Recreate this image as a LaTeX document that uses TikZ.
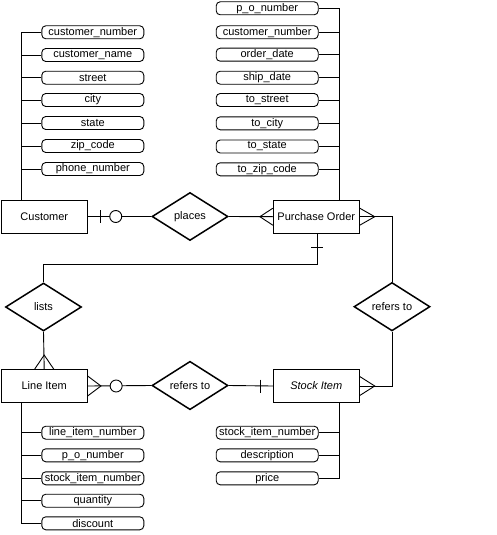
\documentclass[tikz,border=0pt]{standalone}
\usepackage{fontspec}
\setmainfont{Liberation Sans}
\usetikzlibrary{shapes.geometric,calc}
\begin{document}
\begin{tikzpicture}[x=1pt,y=-1pt,
  every node/.style={font=\fontsize{11}{12}\selectfont},
  ln/.style={line width=0.9pt},
  entity/.style={draw,line width=0.9pt,rectangle,minimum width=86pt,minimum height=33pt,inner sep=0pt},
  rel/.style={draw,line width=1.5pt,diamond,minimum width=76pt,minimum height=48pt,inner sep=0pt},
  attr/.style={draw,line width=0.9pt,rectangle,rounded corners=4pt,minimum width=102pt,minimum height=13pt,inner sep=0pt},
  opt/.style={draw,line width=0.9pt,circle,fill=white,minimum size=12pt,inner sep=0pt}]
\useasboundingbox (0,0) rectangle (496,535);
% entities
\node[entity] (cust) at (44.3,216.5) {Customer};
\node[entity] (po) at (316.3,216.7) {Purchase Order};
\node[entity] (li) at (44.2,386) {Line Item};
\node[entity] (si) at (316.3,386) {\itshape Stock Item};
% relationships
\node[rel] (places) at (190,216.5) {places};
\node[rel] (lists) at (43.5,307) {lists};
\node[rel] (ref1) at (190,385.5) {refers to};
\node[rel] (ref2) at (392,306.7) {refers to};
% customer attributes
\foreach \n/\y/\t in {c1/32.3/customer\_number,c2/55/customer\_name,c3/77.7/street,c4/100/city,c5/123/state,c6/146/zip\_code,c7/169/phone\_number}
  \node[attr] (\n) at (92.8,\y) {\t};
\coordinate (cbus) at (21.7,32.3);
\draw[ln] (c1.west) -- (cbus) -- (cbus |- cust.north);
\foreach \n in {c2,c3,c4,c5,c6,c7} \draw[ln] (\n.west) -- (cbus |- \n.west);
% purchase order attributes
\foreach \n/\y/\t in {p1/8.3/p\_o\_number,p2/32.3/customer\_number,p3/54.7/order\_date,p4/77.7/ship\_date,p5/100/to\_street,p6/123.3/to\_city,p7/146.5/to\_state,p8/169.3/to\_zip\_code}
  \node[attr] (\n) at (267.2,\y) {\t};
\coordinate (pbus) at (339.3,8.3);
\draw[ln] (p1.east) -- (pbus) -- (pbus |- po.north);
\foreach \n in {p2,p3,p4,p5,p6,p7,p8} \draw[ln] (\n.east) -- (pbus |- \n.east);
% line item attributes
\foreach \n/\y/\t in {l1/432.7/line\_item\_number,l2/455.3/p\_o\_number,l3/478.3/stock\_item\_number,l4/500.7/quantity,l5/523.3/discount}
  \node[attr] (\n) at (92.8,\y) {\t};
\coordinate (lbus) at (21.7,523.3);
\draw[ln] (lbus |- li.south) -- (lbus) -- (l5.west);
\foreach \n in {l1,l2,l3,l4} \draw[ln] (\n.west) -- (lbus |- \n.west);
% stock item attributes
\foreach \n/\y/\t in {s1/432.7/stock\_item\_number,s2/455.3/description,s3/478.3/price}
  \node[attr] (\n) at (267.2,\y) {\t};
\coordinate (sbus) at (339.3,478.3);
\draw[ln] (sbus |- si.south) -- (sbus) -- (s3.east);
\foreach \n in {s1,s2} \draw[ln] (\n.east) -- (sbus |- \n.east);
% Customer -- places (one, optional)
\draw[ln] (cust.east) -- (places.west);
\draw[ln] ($(cust.east)+(13,-6.5)$) -- ++(0,13);
\node[opt] (o1) at ($(cust.east)+(28,0)$) {};
% places -- Purchase Order (many)
\draw[ln] (places.east) -- (po.west);
\draw[ln] ($(po.west)+(0,-8.5)$) -- ($(po.west)+(-13,0)$) -- ($(po.west)+(0,8.5)$);
% Purchase Order -- refers to -- Stock Item
\coordinate (pt) at ($(po.east)+(15,0)$);
\draw[ln] (po.east) -| (ref2.north);
\draw[ln] ($(po.east)+(0,-8.5)$) -- (pt) -- ($(po.east)+(0,8.5)$);
\coordinate (st) at ($(si.east)+(15,0)$);
\draw[ln] (ref2.south) |- (si.east);
\draw[ln] ($(si.east)+(0,-9.5)$) -- (st) -- ($(si.east)+(0,9.5)$);
% Purchase Order -- lists -- Line Item
\coordinate (pd) at ($(po.south)+(1,31)$);
\draw[ln] ($(po.south)+(1,0)$) -- (pd) -| (lists.north);
\draw[ln] ($(po.south)+(-5,13.4)$) -- ++(12,0);
\draw[ln] (lists.south) -- (li.north);
\coordinate (lt) at ($(li.north)+(0,-14)$);
\draw[ln] ($(li.north)+(-9.5,0)$) -- (lt) -- ($(li.north)+(9.5,0)$);
% Line Item -- refers to -- Stock Item
\draw[ln] (li.east) -- (ref1.west);
\coordinate (lr) at ($(li.east)+(13.3,0)$);
\draw[ln] ($(li.east)+(0,-10)$) -- (lr) -- ($(li.east)+(0,10)$);
\node[opt] (o2) at ($(li.east)+(28.5,0)$) {};
\draw[ln] (ref1.east) -- (si.west);
\draw[ln] ($(si.west)+(-12.6,-6.5)$) -- ++(0,13);
\end{tikzpicture}
\end{document}
